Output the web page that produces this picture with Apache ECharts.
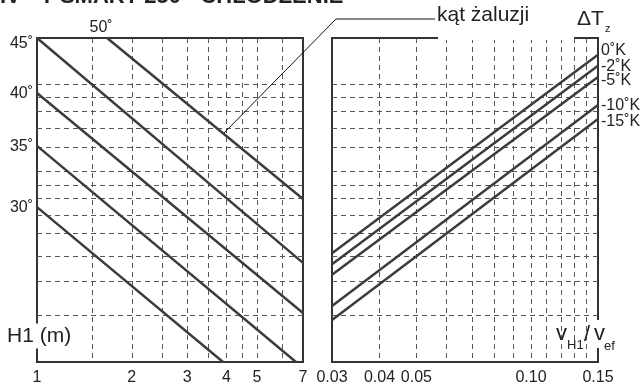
<!DOCTYPE html>
<html lang="pl">
<head>
    <meta charset="UTF-8">
    <title>SMART 250 - chłodzenie</title>
    <script src="https://cdn.jsdelivr.net/npm/echarts@6/dist/echarts.min.js"></script>
</head>
<body style="margin:0;background:#fff">
<div id="main" style="width:642px;height:390px"></div>
<script>
    // lewa część: wysokość H1 (m) -> kąt żaluzji
    const hLabels = [1, 2, 3, 4, 5, 7];
    const hGridValues = [1.5, 2, 2.5, 3, 3.5, 4, 4.5, 5, 6];
    const angleNames = ['50˚', '45˚', '40˚', '35˚', '30˚'];
    const angle50 = [[1.67, 100], [7, 50.3]];
    const angle45 = [[1, 100], [7, 30.6]];
    const angle40 = [[1, 83.0], [7, 15.1]];
    const angle35 = [[1, 66.7], [6.65, 0]];
    const angle30 = [[1, 47.8], [3.9, 0]];

    // prawa część: vH1 / vef -> ΔTz
    const vLabels = [0.03, 0.04, 0.05, 0.10, 0.15];
    const vGridValues = [0.04, 0.05, 0.06, 0.07, 0.08, 0.09, 0.10, 0.11, 0.12, 0.13, 0.14];
    const dtNames = ['0˚K', '-2˚K', '-5˚K', '-10˚K', '-15˚K'];
    const dt0 = [[0.03, 33.6], [0.15, 94.8]];
    const dt2 = [[0.03, 30.2], [0.15, 91.4]];
    const dt5 = [[0.03, 26.9], [0.15, 88.0]];
    const dt10 = [[0.03, 17.3], [0.15, 79.3]];
    const dt15 = [[0.03, 13.0], [0.15, 75.0]];

    // wspólna oś pionowa (bez opisu) - poziome linie siatki
    const yGridValues = [14.5, 25.0, 32.7, 39.8, 45.4, 50.6, 54.6, 59.0, 66.4, 72.2, 77.5, 81.8, 85.8];

    const FONT = 'Liberation Sans, Arial, sans-serif';
    const INK = '#3c3c3c';
    const dash = {color: '#555', width: 1, type: [5, 4]};

    const chart = echarts.init(document.getElementById('main'));

    const angleLines = [angle50, angle45, angle40, angle35, angle30];
    const dtLines = [dt0, dt2, dt5, dt10, dt15];
    // przesunięcia opisów linii
    const angleLabelPos = ['top', 'left', 'left', 'left', 'left'];
    const angleLabelOffset = [[-6, 2], [0, 6], [0, 1], [0, 1], [0, 0]];
    const dtLabelOffset = [[0, -4], [0, 1], [0, 4], [0, 1], [0, 3]];

    const series = [];
    angleLines.forEach(function (pts, i) {
        series.push({
            type: 'line',
            xAxisIndex: 0,
            yAxisIndex: 0,
            symbol: 'circle',
            symbolSize: 0,
            clip: false,
            silent: true,
            lineStyle: {color: INK, width: 2.5},
            itemStyle: {color: INK},
            data: [
                {
                    value: pts[0],
                    label: {
                        show: true,
                        formatter: angleNames[i],
                        position: angleLabelPos[i],
                        distance: 4,
                        offset: angleLabelOffset[i],
                        fontSize: 16,
                        fontFamily: FONT,
                        color: '#222'
                    }
                },
                {value: pts[1]}
            ]
        });
    });
    dtLines.forEach(function (pts, i) {
        series.push({
            type: 'line',
            xAxisIndex: 1,
            yAxisIndex: 1,
            symbol: 'none',
            silent: true,
            lineStyle: {color: INK, width: 2.5},
            endLabel: {
                show: true,
                formatter: dtNames[i],
                distance: 3,
                offset: dtLabelOffset[i],
                fontSize: 16,
                fontFamily: FONT,
                color: '#222'
            },
            data: pts
        });
    });

    const option = {
        animation: false,
        grid: [
            {left: 37, top: 38, width: 266, height: 324, show: true, borderColor: '#333', borderWidth: 2},
            {left: 332, top: 38, width: 266, height: 324, show: true, borderColor: '#333', borderWidth: 2}
        ],
        xAxis: [
            {
                type: 'log', gridIndex: 0, min: 1, max: 7,
                axisLine: {show: false},
                axisTick: {show: false, customValues: hGridValues},
                axisLabel: {customValues: hLabels, fontSize: 16, fontFamily: FONT, color: '#222', margin: 8},
                splitLine: {show: true, lineStyle: dash}
            },
            {
                type: 'log', gridIndex: 1, min: 0.03, max: 0.15,
                axisLine: {show: false},
                axisTick: {show: false, customValues: vGridValues},
                axisLabel: {
                    customValues: vLabels, fontSize: 16, fontFamily: FONT, color: '#222', margin: 8,
                    formatter: function (v) { return v.toFixed(2); }
                },
                splitLine: {show: true, lineStyle: dash}
            }
        ],
        yAxis: [0, 1].map(function (g) {
            return {
                type: 'value', gridIndex: g, min: 0, max: 100,
                axisLine: {show: false},
                axisTick: {show: false, customValues: yGridValues},
                axisLabel: {show: false},
                splitLine: {show: true, lineStyle: dash}
            };
        }),
        graphic: [
            // obcięty tytuł u góry
            {type: 'text', left: 0, top: -14, z: 100, style: {text: 'IV - T SMART 250 - CHŁODZENIE', font: 'bold 22px ' + FONT, fill: '#222'}},
            // przerwa w górnej ramce prawego wykresu
            {type: 'rect', z: 100, shape: {x: 438, y: 36, width: 136, height: 4}, style: {fill: '#fff'}},
            // odnośnik "kąt żaluzji"
            {type: 'polyline', z: 100, shape: {points: [[224, 133], [336, 19], [435, 19]]}, style: {stroke: '#111', lineWidth: 1, fill: null}},
            {type: 'text', x: 437, y: 15, z: 100, style: {text: 'kąt żaluzji', font: '21px ' + FONT, fill: '#222', verticalAlign: 'middle'}},
            {type: 'text', x: 577, y: 19, z: 100, style: {text: 'ΔT', font: '21px ' + FONT, fill: '#222', verticalAlign: 'middle'}},
            {type: 'text', x: 605, y: 29, z: 100, style: {text: 'z', font: '11px ' + FONT, fill: '#222', verticalAlign: 'middle'}},
            // opisy osi
            {type: 'text', x: 6, y: 336, z: 100, style: {text: 'H1 (m)', font: '21px ' + FONT, fill: '#222', verticalAlign: 'middle', backgroundColor: '#fff', padding: [2, 1]}},
            {type: 'text', x: 556, y: 334, z: 100, style: {text: 'v', font: '22px ' + FONT, fill: '#222', verticalAlign: 'middle'}},
            {type: 'text', x: 567, y: 345, z: 100, style: {text: 'H1', font: '13px ' + FONT, fill: '#222', verticalAlign: 'middle'}},
            {type: 'text', x: 584, y: 335, z: 100, style: {text: '/', font: '22px ' + FONT, fill: '#222', verticalAlign: 'middle'}},
            {type: 'text', x: 593, y: 334, z: 100, style: {text: 'v', font: '22px ' + FONT, fill: '#222', verticalAlign: 'middle', backgroundColor: '#fff', padding: [3, 1]}},
            {type: 'text', x: 604, y: 346, z: 100, style: {text: 'ef', font: '13px ' + FONT, fill: '#222', verticalAlign: 'middle'}}
        ],
        series: series
    };

    chart.setOption(option);
</script>
</body>
</html>
